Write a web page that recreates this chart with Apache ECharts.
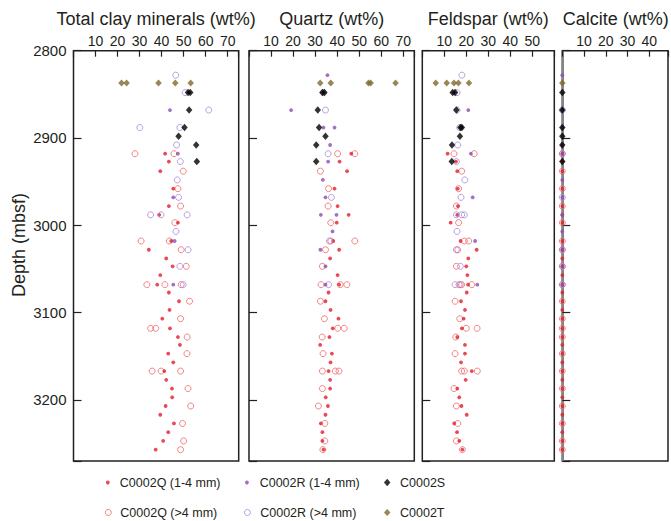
<!DOCTYPE html>
<html>
<head>
<meta charset="utf-8">
<script src="https://cdn.jsdelivr.net/npm/echarts@6/dist/echarts.min.js"></script>
<style>
  html, body { margin: 0; padding: 0; background: #ffffff; }
  #chart { width: 671px; height: 521px; }
</style>
</head>
<body>
<div id="chart"></div>
<script>
// ---- Axes -------------------------------------------------------------
const depthRange = [2800, 3270];               // mbsf, downward
const depthTickStep = 100;
const wtTickStep = 10;
const panelTitles = ['Total clay minerals (wt%)', 'Quartz (wt%)', 'Feldspar (wt%)', 'Calcite (wt%)'];
const panelMax = [75, 75, 60, 48.6];
const seriesNames = ['C0002Q (1-4 mm)', 'C0002Q (>4 mm)', 'C0002R (1-4 mm)', 'C0002R (>4 mm)', 'C0002S', 'C0002T'];

// ---- Measurements: [depth (mbsf), wt%] ---------------------------------
// Total clay minerals
const clayQ14 = [[2918,41.6],[2927,43.3],[2938,39.4],[2958,45.3],[2978,43.3],[2988,38.9],[2997,47.4],[3018,44.4],[3028,34.2],[3038,42.1],[3047,45.0],[3057,39.4],[3068,38.0],[3077,43.3],[3087,47.9],[3097,43.6],[3107,40.3],[3118,43.8],[3128,47.4],[3137,48.3],[3147,43.0],[3157,45.3],[3167,41.2],[3177,42.1],[3187,44.7],[3197,44.8],[3207,41.8],[3217,39.4],[3227,45.6],[3237,43.0],[3247,40.7],[3257,37.3]];
const clayQ4 = [[2918,27.9],[2918,45.6],[2938,49.8],[2958,47.4],[2978,48.6],[2997,46.0],[3018,30.7],[3018,43.5],[3028,48.9],[3047,51.2],[3068,33.3],[3068,41.5],[3068,48.9],[3087,52.7],[3107,48.6],[3118,35.0],[3118,37.3],[3128,51.6],[3147,51.5],[3167,35.7],[3167,39.8],[3167,48.6],[3187,52.0],[3207,53.2],[3227,49.5],[3247,50.0],[3257,48.6]];
const clayR14 = [[2868,43.8],[2918,47.4],[2968,45.3],[3018,45.9],[3068,45.3]];
const clayR4 = [[2828,46.4],[2848,50.7],[2868,61.4],[2888,30.1],[2888,48.3],[2908,46.8],[2927,48.5],[2948,47.1],[2968,47.7],[2988,35.0],[2988,39.7],[2988,51.6],[3007,46.5],[3028,52.0],[3047,48.3],[3068,49.8]];
const clayS = [[2848,52.0],[2848,53.0],[2868,52.5],[2888,50.4],[2898,47.7],[2908,55.7],[2927,56.0]];
const clayT = [[2837,21.8],[2837,24.1],[2837,38.6],[2837,46.2],[2837,53.2]];

// Quartz
const quartzQ14 = [[2918,46.4],[2927,41.1],[2938,44.5],[2958,38.8],[2978,40.2],[2988,45.2],[2997,39.8],[3018,38.2],[3028,40.9],[3038,36.8],[3057,40.2],[3068,40.9],[3077,36.1],[3087,34.7],[3097,37.0],[3107,40.6],[3118,38.0],[3128,36.5],[3137,32.3],[3147,37.6],[3157,37.0],[3167,36.1],[3177,36.8],[3187,36.8],[3197,34.8],[3207,35.8],[3217,34.7],[3227,32.6],[3237,33.3],[3247,33.3],[3257,33.8]];
const quartzQ4 = [[2918,40.2],[2918,48.0],[2938,32.4],[2958,36.1],[2978,35.9],[2997,37.1],[3018,37.1],[3018,48.0],[3028,34.7],[3047,33.3],[3068,32.7],[3068,41.4],[3068,44.4],[3087,32.4],[3107,34.2],[3118,40.3],[3118,43.2],[3128,33.2],[3147,33.6],[3167,33.3],[3167,39.2],[3167,40.8],[3187,33.3],[3207,31.5],[3227,34.4],[3247,34.4],[3257,33.5]];
const quartzR14 = [[2828,35.6],[2868,19.1],[2888,33.8],[2888,38.8],[2908,36.8],[2927,35.9],[2948,33.5],[2968,34.7],[2988,32.6],[2988,39.7],[3007,37.9],[3028,32.4],[3047,34.7],[3068,34.7]];
const quartzR4 = [[2848,33.8],[2868,34.7],[2918,35.9],[2968,37.4],[3018,36.5],[3068,36.1]];
const quartzS = [[2848,33.3],[2848,34.2],[2868,31.2],[2888,31.8],[2898,34.7],[2908,30.5],[2927,30.5]];
const quartzT = [[2837,32.3],[2837,37.1],[2837,54.2],[2837,55.2],[2837,66.5]];

// Feldspar
const feldsparQ14 = [[2918,11.5],[2927,15.3],[2938,15.9],[2958,16.1],[2978,16.2],[2988,15.9],[2997,12.9],[3018,17.4],[3028,24.7],[3038,20.9],[3047,20.0],[3057,20.5],[3068,20.8],[3077,20.2],[3087,17.6],[3097,19.4],[3107,18.8],[3118,18.0],[3128,15.9],[3137,19.4],[3147,19.4],[3157,17.6],[3167,22.5],[3177,19.7],[3187,15.9],[3197,16.8],[3207,17.8],[3217,20.2],[3227,14.5],[3237,15.8],[3247,16.8],[3257,18.2]];
const feldsparQ4 = [[2918,14.4],[2918,23.6],[2938,17.9],[2958,16.5],[2978,15.5],[2997,16.5],[3018,19.1],[3018,21.1],[3028,16.1],[3047,15.5],[3068,16.7],[3068,17.9],[3068,22.5],[3087,14.9],[3107,17.0],[3118,20.0],[3118,24.9],[3128,15.2],[3147,14.9],[3167,17.9],[3167,19.1],[3167,25.0],[3187,14.4],[3207,15.5],[3227,16.1],[3247,15.5],[3257,18.2]];
const feldsparR14 = [[2868,20.9],[2918,22.1],[2968,22.9],[3018,24.0],[3068,25.0]];
const feldsparR4 = [[2828,18.0],[2848,15.8],[2868,15.8],[2888,17.0],[2908,16.1],[2927,15.5],[2948,19.3],[2968,17.6],[2988,15.5],[2988,17.9],[2988,19.1],[3007,15.8],[3028,15.5],[3047,17.3],[3068,14.9],[3068,17.3]];
const feldsparS = [[2848,13.8],[2848,14.9],[2868,15.5],[2888,17.3],[2888,18.0],[2898,17.1],[2908,13.5],[2927,13.4]];
const feldsparT = [[2837,6.1],[2837,11.1],[2837,14.4],[2837,16.4],[2837,21.2]];

// Calcite (below detection in every sample)
const calciteQ14 = [[2918,0],[2927,0],[2938,0],[2958,0],[2978,0],[2988,0],[2997,0],[3018,0],[3028,0],[3038,0],[3047,0],[3057,0],[3068,0],[3077,0],[3087,0],[3097,0],[3107,0],[3118,0],[3128,0],[3137,0],[3147,0],[3157,0],[3167,0],[3177,0],[3187,0],[3197,0],[3207,0],[3217,0],[3227,0],[3237,0],[3247,0],[3257,0]];
const calciteQ4 = [[2918,0],[2938,0],[2958,0],[2978,0],[2997,0],[3018,0],[3028,0],[3047,0],[3068,0],[3087,0],[3107,0],[3118,0],[3128,0],[3147,0],[3167,0],[3187,0],[3207,0],[3227,0],[3247,0],[3257,0]];
const calciteR14 = [[2828,0],[2868,0],[2888,0],[2908,0],[2918,0],[2948,0],[2968,0],[2988,0],[3007,0],[3028,0],[3047,0],[3068,0]];
const calciteR4 = [[2868,0],[2918,0],[2968,0],[3028,0],[3047,0],[3068,0]];
const calciteS = [[2848,0],[2868,0],[2888,0],[2898,0],[2908,0],[2927,0]];
const calciteT = [[2837,0]];

// One row per panel, columns follow seriesNames
const panelData = [
  [clayQ14, clayQ4, clayR14, clayR4, clayS, clayT],
  [quartzQ14, quartzQ4, quartzR14, quartzR4, quartzS, quartzT],
  [feldsparQ14, feldsparQ4, feldsparR14, feldsparR4, feldsparS, feldsparT],
  [calciteQ14, calciteQ4, calciteR14, calciteR4, calciteS, calciteT]
];

// ---- Look ---------------------------------------------------------------
const ink = '#231f20';
const font = '"Liberation Sans", Arial, Helvetica, sans-serif';
const markerStyle = [
  { symbol: 'circle', size: 3.8, itemStyle: { color: '#e31d2b' } },
  { symbol: 'circle', size: 6,   itemStyle: { color: 'rgba(0,0,0,0)', borderColor: '#ee6767', borderWidth: 1 } },
  { symbol: 'circle', size: 3.8, itemStyle: { color: '#8a4db4' } },
  { symbol: 'circle', size: 6,   itemStyle: { color: 'rgba(0,0,0,0)', borderColor: '#a987d6', borderWidth: 1 } },
  { symbol: 'diamond', size: [6.5, 7.5], itemStyle: { color: '#000000' } },
  { symbol: 'diamond', size: [6.5, 7], itemStyle: { color: '#7e6a2b' } }
];
// Draw order: open circles beneath dots, diamonds on top
const drawOrder = [1, 0, 3, 2, 4, 5];

const panelBox = [
  { left: 73.5,  width: 165.2 },
  { left: 249,   width: 165.3 },
  { left: 422.3, width: 132 },
  { left: 562.3, width: 107 }
];
const plotTop = 50.7, plotHeight = 410.3;

const grids = panelBox.map(b => ({
  left: b.left, top: plotTop, width: b.width, height: plotHeight,
  show: true, borderColor: ink, borderWidth: 1.5, backgroundColor: 'rgba(0,0,0,0)'
}));

const xAxes = panelMax.map((mx, i) => ({
  type: 'value', gridIndex: i, position: 'top',
  min: 0, max: mx, interval: wtTickStep,
  axisLine: { show: false },
  splitLine: { show: false },
  axisTick: { show: true, inside: true, length: 6, lineStyle: { color: ink, width: 1.2 } },
  axisLabel: {
    show: true, margin: 3, fontSize: 14, color: ink, fontFamily: font,
    hideOverlap: false,
    // interior decades only; the panel edges stay unlabelled
    formatter: v => (v > 0 && v < mx && v % wtTickStep === 0) ? String(v) : ''
  }
}));

const yAxes = panelMax.map((mx, i) => ({
  type: 'value', gridIndex: i, inverse: true,
  min: depthRange[0], max: depthRange[1], interval: depthTickStep,
  axisLine: i === 3
    ? { show: true, onZero: false, lineStyle: { color: '#858585', width: 2 } }
    : { show: false },
  splitLine: { show: false },
  axisTick: { show: true, inside: true, length: 8, lineStyle: { color: ink, width: 1.2 } },
  axisLabel: {
    show: i === 0, margin: 7, fontSize: 15, color: ink, fontFamily: font,
    hideOverlap: false,
    formatter: v => (v % depthTickStep === 0) ? String(v) : ''
  }
}));

const series = [];
panelData.forEach((rows, p) => {
  drawOrder.forEach(k => {
    const st = markerStyle[k];
    series.push({
      type: 'scatter',
      name: seriesNames[k],
      xAxisIndex: p, yAxisIndex: p,
      symbol: st.symbol, symbolSize: st.size,
      itemStyle: st.itemStyle,
      emphasis: { disabled: true },
      silent: true,
      data: rows[k].map(([d, v]) => [v, d])
    });
  });
});

// Legend: three columns, two rows
const legendCells = [
  { k: 0, cx: 107.8, cy: 482.5, textX: 119.8 },
  { k: 2, cx: 246.9, cy: 482.5, textX: 259.7 },
  { k: 4, cx: 387.2, cy: 482.5, textX: 400 },
  { k: 1, cx: 107.8, cy: 512.5, textX: 119.8 },
  { k: 3, cx: 246.9, cy: 512.5, textX: 259.7 },
  { k: 5, cx: 387.2, cy: 512.5, textX: 400 }
];
const legends = legendCells.map(c => {
  const st = markerStyle[c.k];
  const w = Array.isArray(st.size) ? st.size[0] : st.size;
  const h = Array.isArray(st.size) ? st.size[1] : st.size;
  const left = c.cx - w / 2;
  return {
    show: true, orient: 'horizontal', padding: 0,
    left: left, top: c.cy - 8,
    itemWidth: w, itemHeight: h,
    selectedMode: false,
    data: [{
      name: seriesNames[c.k], icon: st.symbol,
      itemStyle: Object.assign({ borderWidth: st.itemStyle.borderWidth || 0 }, st.itemStyle)
    }],
    textStyle: {
      fontSize: 12.5, color: ink, fontFamily: font, lineHeight: 16,
      padding: [0, 0, 0, c.textX - (left + w + 5)]
    }
  };
});

// Panel headings and depth axis title
const graphics = panelBox.map((b, i) => ({
  type: 'text', silent: true,
  x: b.left + b.width / 2, y: 18.5,
  style: {
    text: panelTitles[i], fill: ink, font: '18px ' + font,
    align: 'center', verticalAlign: 'middle'
  }
}));
graphics.push({
  type: 'text', silent: true,
  x: 19, y: 245, rotation: Math.PI / 2,
  style: {
    text: 'Depth (mbsf)', fill: ink, font: '18px ' + font,
    align: 'center', verticalAlign: 'middle'
  }
});

const chart = echarts.init(document.getElementById('chart'), null, { renderer: 'svg' });
chart.setOption({
  animation: false,
  backgroundColor: '#ffffff',
  tooltip: { show: false },
  grid: grids,
  xAxis: xAxes,
  yAxis: yAxes,
  legend: legends,
  graphic: graphics,
  series: series
});
</script>
</body>
</html>
